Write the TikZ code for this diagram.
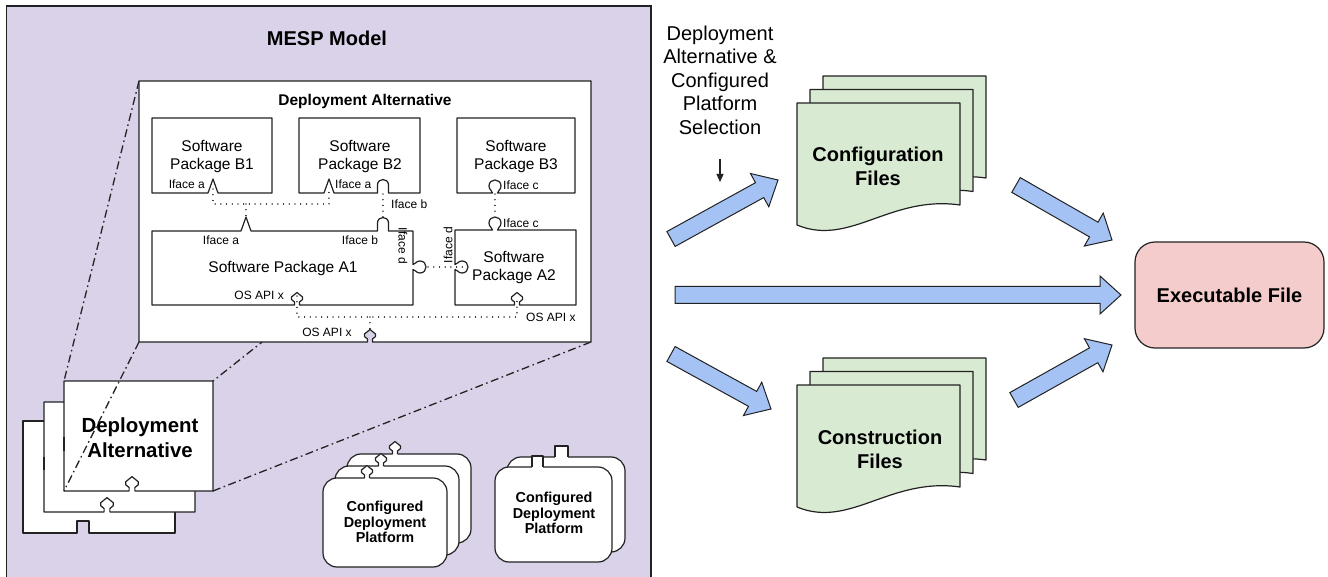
\documentclass[tikz,border=0pt]{standalone}
\usepackage{fontspec}
\setmainfont{Liberation Sans}
\usetikzlibrary{calc,arrows.meta}
\definecolor{panel}{HTML}{D9D2E9}
\definecolor{docfill}{HTML}{D9EAD3}
\definecolor{flow}{HTML}{A4C2F4}
\definecolor{exefill}{HTML}{F4CCCC}
\definecolor{ink}{HTML}{222222}

% Interface glyphs, appended to a path running along a box edge.
% #1,#2: position on the edge; #3: +1/-1 sense of travel; #4: +1/-1 side the glyph points to
\newcommand\glyphTri[4]{%
 -- ({#1+(#3)*5},#2) -- (#1,{#2-(#4)*14}) -- ({#1-(#3)*5},#2)}
\newcommand\glyphArch[4]{%
 -- ({#1+(#3)*5.5},#2) -- ({#1+(#3)*5.5},{#2-(#4)*8})
 .. controls ({#1+(#3)*5.5},{#2-(#4)*15.3}) and ({#1-(#3)*5.5},{#2-(#4)*15.3}) ..
 ({#1-(#3)*5.5},{#2-(#4)*8}) -- ({#1-(#3)*5.5},#2)}
\newcommand\glyphKey[4]{%
 -- ({#1+(#3)*2.5},#2)
 .. controls ({#1+(#3)*2.5},{#2-(#4)*3}) and ({#1+(#3)*6},{#2-(#4)*2.5}) ..
 ({#1+(#3)*6},{#2-(#4)*7})
 .. controls ({#1+(#3)*6},{#2-(#4)*15}) and ({#1-(#3)*6},{#2-(#4)*15}) ..
 ({#1-(#3)*6},{#2-(#4)*7})
 .. controls ({#1-(#3)*6},{#2-(#4)*2.5}) and ({#1-(#3)*2.5},{#2-(#4)*3}) ..
 ({#1-(#3)*2.5},#2)}
\newcommand\glyphKeyV[4]{%
 -- (#1,{#2+(#3)*2.5})
 .. controls ({#1+(#4)*3},{#2+(#3)*2.5}) and ({#1+(#4)*2.5},{#2+(#3)*6}) ..
 ({#1+(#4)*7},{#2+(#3)*6})
 .. controls ({#1+(#4)*15},{#2+(#3)*6}) and ({#1+(#4)*15},{#2-(#3)*6}) ..
 ({#1+(#4)*7},{#2-(#3)*6})
 .. controls ({#1+(#4)*2.5},{#2-(#3)*6}) and ({#1+(#4)*3},{#2-(#3)*2.5}) ..
 (#1,{#2-(#3)*2.5})}
% #5: size factor
\newcommand\glyphPent[5]{%
 -- ({#1+(#3)*(#5)*2.5},#2) -- ({#1+(#3)*(#5)*2.5},{#2-(#4)*(#5)*3})
 -- ({#1+(#3)*(#5)*5.5},{#2-(#4)*(#5)*5.5}) -- ({#1+(#3)*(#5)*5.5},{#2-(#4)*(#5)*8})
 -- (#1,{#2-(#4)*(#5)*12.5})
 -- ({#1-(#3)*(#5)*5.5},{#2-(#4)*(#5)*8}) -- ({#1-(#3)*(#5)*5.5},{#2-(#4)*(#5)*5.5})
 -- ({#1-(#3)*(#5)*2.5},{#2-(#4)*(#5)*3}) -- ({#1-(#3)*(#5)*2.5},#2)}

% Platform card: rounded box with a plug on its top edge
\newcommand\platcard[5]{%
 \draw[box,rounded corners=14pt] (#1,#2) rectangle (#3,#4);
 \fill[white] ({#5-2.5},{#2+1.5}) -- ({#5-2.5},#2) \glyphPent{#5}{#2}{-1}{1}{1} -- ({#5+2.5},{#2+1.5}) -- cycle;
 \draw[box,fill=none] ({#5-2.5},#2) \glyphPent{#5}{#2}{-1}{1}{1};}
\newcommand\tabcard[6]{%
 \draw[box,rounded corners=14pt] (#1,#2) rectangle (#3,#4);
 \fill[white] (#5,{#2+1.5}) rectangle (#6,{#2-11});
 \draw[box,fill=none] (#5,#2) -- (#5,{#2-11}) -- (#6,{#2-11}) -- (#6,#2);}

% Document sheet with a wavy lower edge: x, y (top), width, height at left
\newcommand\sheet[4]{%
 \filldraw[sheetstyle] (#1,#2) -- ({#1+#3},#2) -- ({#1+#3},{#2+#4-20})
 .. controls ({#1+0.57*#3},{#2+#4-30}) and ({#1+0.325*#3},{#2+#4+22}) .. (#1,{#2+#4}) -- cycle;}

% Wide block arrow from a tail coordinate to a tip coordinate
\newcommand\flowarrow[2]{%
 \filldraw[flowstyle] ($(#1)!8.5pt!90:(#2)$) -- ($(#2)!21pt!(#1)!8.5pt!-90:(#1)$)
 -- ($(#2)!21pt!(#1)!19pt!-90:(#1)$) -- (#2) -- ($(#2)!21pt!(#1)!19pt!90:(#1)$)
 -- ($(#2)!21pt!(#1)!8.5pt!90:(#1)$) -- ($(#1)!8.5pt!-90:(#2)$) -- cycle;}

\begin{document}
\begin{tikzpicture}[x=1pt,y=-1pt,
  box/.style={draw=ink,line width=1.2pt,fill=white,line join=round},
  wire/.style={draw=ink,line width=1.2pt,line cap=round,dash pattern=on 0.1pt off 5.6pt},
  zoomline/.style={draw=ink,line width=1.3pt,dash pattern=on 8pt off 3.5pt on 1.6pt off 3.5pt},
  tag/.style={inner sep=0pt,font=\fontsize{12}{14}\selectfont},
  pkg/.style={inner sep=0pt,align=center,font=\fontsize{15.5}{18}\selectfont},
  platlabel/.style={inner sep=0pt,align=center,font=\fontsize{14.4}{15.8}\selectfont\bfseries},
  doclabel/.style={inner sep=0pt,align=center,font=\fontsize{20}{24}\selectfont\bfseries},
  sheetstyle/.style={draw=ink,line width=1.2pt,fill=docfill,line join=round},
  flowstyle/.style={draw=ink,line width=1pt,fill=flow,line join=miter}]
\useasboundingbox (0,0) rectangle (1328,577);

% MESP model panel
\begin{scope}
  \clip (0,0) rectangle (1328,577);
  \draw[line width=1.3pt,draw=ink,fill=panel] (6.5,6) rectangle (651,640);
\end{scope}
\node[inner sep=0pt,font=\fontsize{20}{24}\selectfont\bfseries] (mesp) at (327,38) {MESP Model};

% stack of deployment alternatives
\draw[box] (23,421) -- (175,421) -- (175,533) -- (89,533) -- (89,521) -- (77,521) -- (77,533) -- (23,533) -- cycle;
\draw[box] (44,402) -- (195,402) -- (195,512) \glyphPent{107}{512}{1}{1}{1.15} -- (44,512) -- cycle;
\draw[line width=2.6pt,draw=ink] (43.8,457) -- (43.8,470);
\draw[box] (64,381) -- (213,381) -- (213,491) \glyphPent{132}{491}{1}{1}{1.15} -- (64,491) -- cycle;
\draw[line width=2.6pt,draw=ink] (63.8,437) -- (63.8,451);
\node[inner sep=0pt,align=center,font=\fontsize{20.4}{25}\selectfont\bfseries] (daF) at (140,438) {Deployment\\Alternative};

% corners used by the magnification lines
\coordinate (inTL) at (139,81);  \coordinate (inTR) at (591,81);
\coordinate (inBL) at (139,342); \coordinate (inBR) at (591,342);
\coordinate (frTL) at (64,381);  \coordinate (frTR) at (213,381);
\coordinate (frBL) at (64,491);  \coordinate (frBR) at (213,491);
\draw[zoomline] (inTL) -- (frTL);
\draw[zoomline] (inTR) -- (frTR);
\draw[zoomline] (inBL) -- (frBL);
\draw[zoomline] (inBR) -- (frBR);

% magnified deployment alternative
\draw[box] (inTL) -- (inTR) -- (inBR) \glyphPent{370}{342}{1}{1}{1} -- (inBL) -- cycle;
\node[inner sep=0pt,font=\fontsize{15.5}{18}\selectfont\bfseries] (daT) at (365,101) {Deployment Alternative};

% software packages
\draw[box] (152,118) -- (272,118) -- (272,193) \glyphTri{213}{193}{1}{1} -- (152,193) -- cycle;
\draw[box] (299,118) -- (420,118) -- (420,193) \glyphArch{383}{193}{1}{1} \glyphTri{329}{193}{1}{1} -- (299,193) -- cycle;
\draw[box] (457,118) -- (575,118) -- (575,193) \glyphKey{495}{193}{1}{1} -- (457,193) -- cycle;
\draw[box] (152,231) \glyphTri{246}{231}{-1}{1} \glyphArch{383}{231}{-1}{1} -- (413,231)
  \glyphKeyV{413}{267}{-1}{1} -- (413,305) \glyphPent{297}{305}{1}{1}{1} -- (152,305) -- cycle;
\draw[box] (455,230) \glyphKey{495}{230}{-1}{1} -- (576,230) -- (576,305)
  \glyphPent{517}{305}{1}{1}{1} -- (455,305) \glyphKeyV{455}{267}{1}{1} -- cycle;

\node[pkg] (pB1) at (212,157) {Software\\Package B1};
\node[pkg] (pB2) at (360,157) {Software\\Package B2};
\node[pkg] (pB3) at (516,157) {Software\\Package B3};
\node[pkg] (pA1) at (283,268) {Software Package A1};
\node[pkg] (pA2) at (514,268) {Software\\Package A2};

% interface bindings
\coordinate (ia1) at (213,189); \coordinate (ia2) at (329,189);
\coordinate (iaJ) at (246,204); \coordinate (ia3) at (246,217);
\coordinate (ib1) at (383,194); \coordinate (ib2) at (383,217);
\coordinate (ic1) at (495,194); \coordinate (ic2) at (495,216);
\coordinate (id1) at (428,267); \coordinate (id2) at (466,267);
\coordinate (ix1) at (297,296); \coordinate (ix2) at (517,296);
\coordinate (ixJ) at (370,317); \coordinate (ix3) at (370,331);
\draw[wire] (ia1) -- (ia1 |- iaJ) -- (ia2 |- iaJ) -- (ia2);
\draw[wire] (iaJ) -- (ia3);
\draw[wire] (ib1) -- (ib2);
\draw[wire] (ic1) -- (ic2);
\draw[wire] (id1) -- (id2);
\draw[wire] (ix1) -- (ix1 |- ixJ) -- (ix2 |- ixJ) -- (ix2);
\draw[wire] (ixJ) -- (ix3);

\node[tag,anchor=east] (tB1a) at (205,184) {Iface a};
\node[tag,anchor=west] (tB2a) at (335,184) {Iface a};
\node[tag,anchor=west] (tB2b) at (391,204) {Iface b};
\node[tag] (tA1a) at (221,240) {Iface a};
\node[tag] (tA1b) at (360,240) {Iface b};
\node[tag,rotate=-90] (tA1d) at (403,246) {Iface d};
\node[tag,rotate=90] (tA2d) at (448,245) {Iface d};
\node[tag,anchor=west] (tB3c) at (503,185) {Iface c};
\node[tag,anchor=west] (tA2c) at (503,223) {Iface c};
\node[tag,anchor=east] (tA1x) at (284,295) {OS API x};
\node[tag,anchor=west] (tA2x) at (526,317) {OS API x};
\node[tag] (tDAx) at (327,332) {OS API x};

% configured deployment platforms
\platcard{347}{454}{471}{543}{395}
\platcard{335}{466}{459}{555}{381}
\platcard{323}{478}{447}{567}{367}
\node[platlabel] (plat1) at (385,522) {Configured\\Deployment\\Platform};
\tabcard{507}{457}{625}{552}{555}{568}
\tabcard{495}{467}{612}{562}{532}{543}
\node[platlabel] (plat2) at (554,513) {Configured\\Deployment\\Platform};

% selection note
\node[inner sep=0pt,align=center,font=\fontsize{20}{23.5}\selectfont] (sel) at (720,80)
  {Deployment\\Alternative \&\\Configured\\Platform\\Selection};
\coordinate (selA) at (720,159); \coordinate (selB) at (720,182);
\draw[line width=1.1pt,draw=ink,-{Triangle[length=8pt,width=7pt]}] (selA) -- (selB);

% generated files
\sheet{823}{76}{163}{122}
\sheet{810}{89.5}{163}{122}
\sheet{797}{103}{163}{122}
\node[doclabel] (cfg) at (878,166) {Configuration\\Files};
\sheet{823}{358}{163}{122}
\sheet{810}{371.5}{163}{122}
\sheet{797}{385}{163}{122}
\node[doclabel] (cons) at (880,449) {Construction\\Files};

\node[draw=ink,line width=1.2pt,fill=exefill,rounded corners=20pt,minimum width=189pt,
  minimum height=106pt,inner sep=0pt,font=\fontsize{20}{24}\selectfont\bfseries] (exe) at (1229.5,295) {Executable File};

% flow arrows
\coordinate (f1t) at (671,239);  \coordinate (f1h) at (778,180);
\coordinate (f2t) at (675,295);  \coordinate (f2h) at (1121,295);
\coordinate (f3t) at (671,354);  \coordinate (f3h) at (771,409);
\coordinate (f4t) at (1016,185); \coordinate (f4h) at (1112,240);
\coordinate (f5t) at (1014,400); \coordinate (f5h) at (1112,345);
\flowarrow{f1t}{f1h}
\flowarrow{f2t}{f2h}
\flowarrow{f3t}{f3h}
\flowarrow{f4t}{f4h}
\flowarrow{f5t}{f5h}
\end{tikzpicture}
\end{document}
